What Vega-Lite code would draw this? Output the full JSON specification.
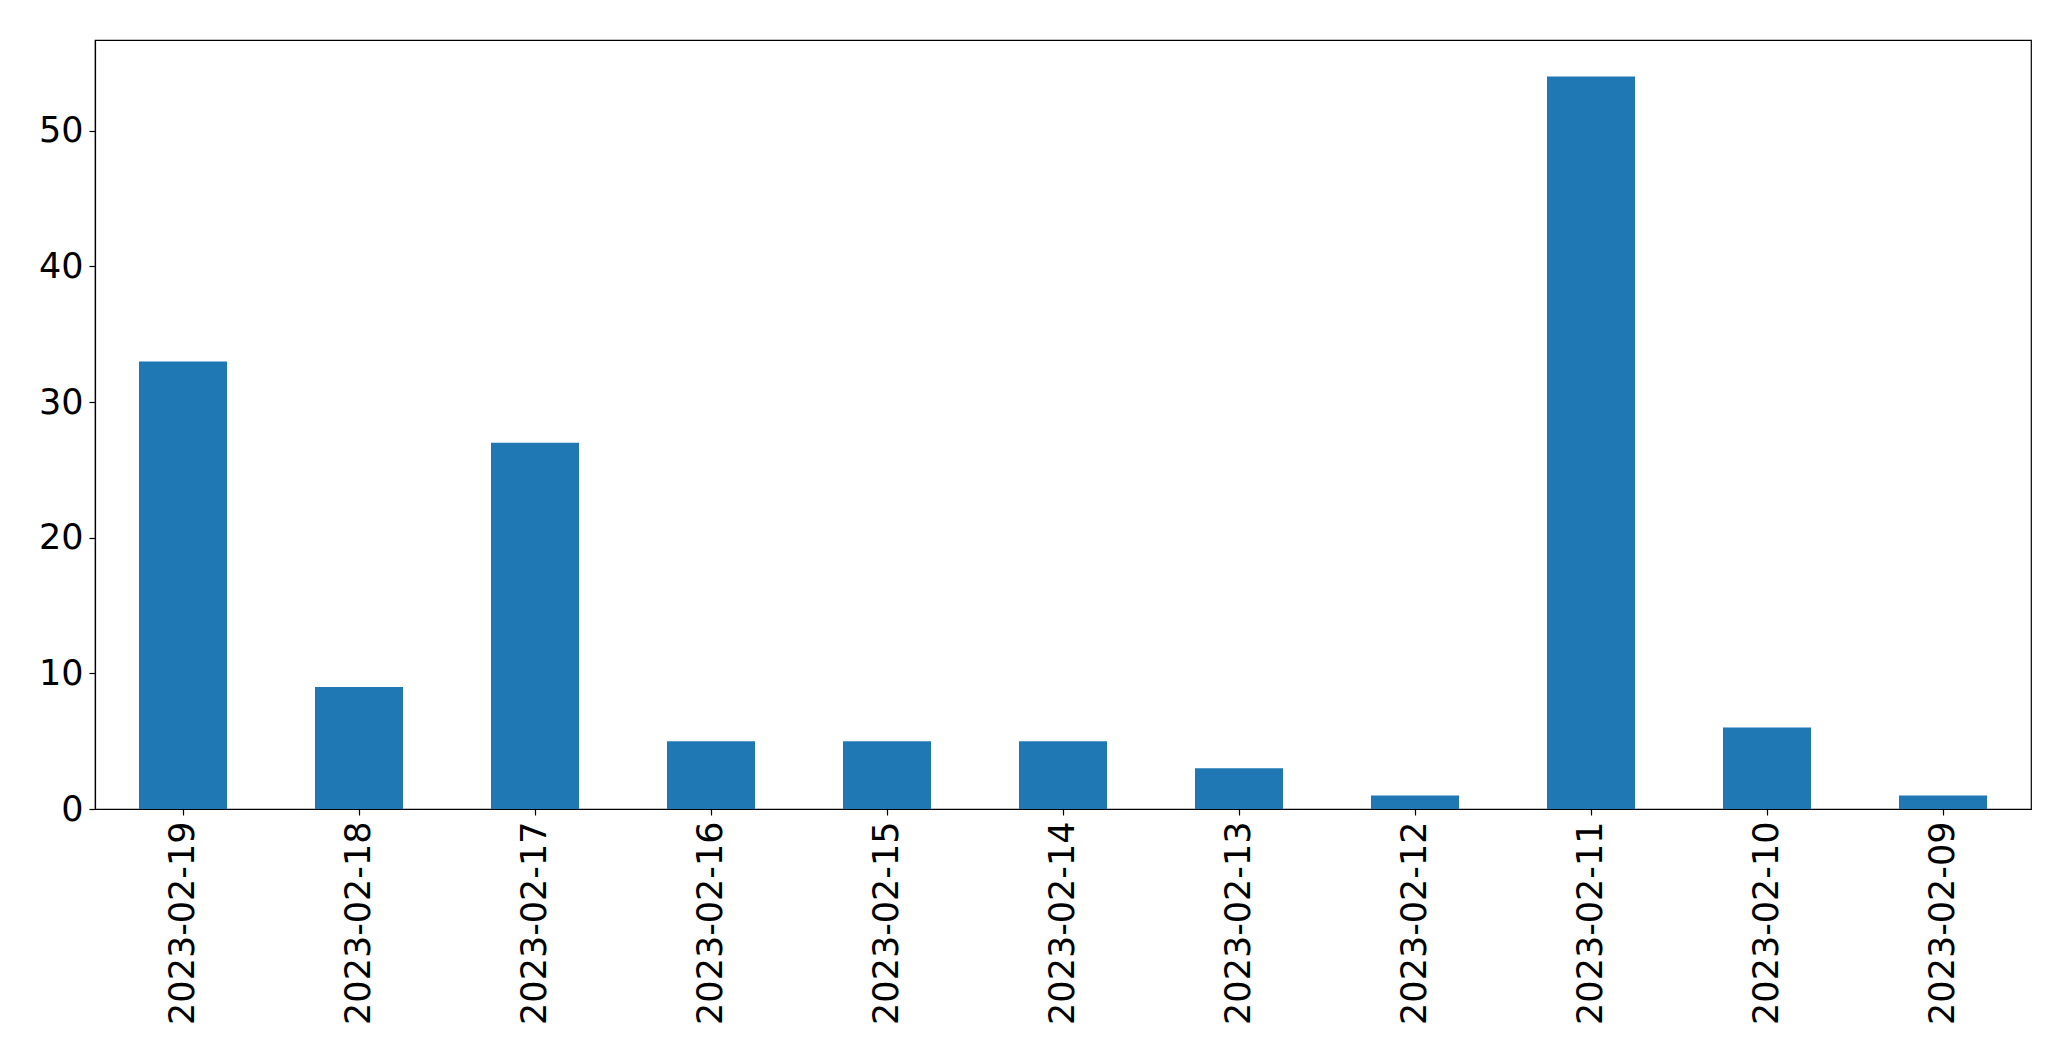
{
  "$schema": "https://vega.github.io/schema/vega-lite/v6.json",
  "autosize": "none",
  "width": 1936,
  "height": 769,
  "padding": {"left": 95, "top": 40, "right": 40, "bottom": 252},
  "background": "white",
  "config": {
    "view": {"stroke": "black", "strokeWidth": 1.2},
    "axis": {
      "labelFont": "DejaVu Sans",
      "labelFontSize": 35,
      "labelColor": "black",
      "labelLimit": 0,
      "domainColor": "black",
      "tickColor": "black",
      "tickSize": 6,
      "tickWidth": 1.2,
      "domainWidth": 1.2,
      "labelPadding": 6,
      "grid": false,
      "title": null
    }
  },
  "data": {
    "values": [
      {"date": "2023-02-19", "count": 33},
      {"date": "2023-02-18", "count": 9},
      {"date": "2023-02-17", "count": 27},
      {"date": "2023-02-16", "count": 5},
      {"date": "2023-02-15", "count": 5},
      {"date": "2023-02-14", "count": 5},
      {"date": "2023-02-13", "count": 3},
      {"date": "2023-02-12", "count": 1},
      {"date": "2023-02-11", "count": 54},
      {"date": "2023-02-10", "count": 6},
      {"date": "2023-02-09", "count": 1}
    ]
  },
  "mark": {"type": "bar", "color": "#1f77b4"},
  "encoding": {
    "x": {
      "field": "date",
      "type": "nominal",
      "sort": null,
      "scale": {"paddingInner": 0.5, "paddingOuter": 0.25},
      "axis": {"labelAngle": -90, "labelPadding": 6}
    },
    "y": {
      "field": "count",
      "type": "quantitative",
      "scale": {"domain": [0, 56.7], "nice": false},
      "axis": {"values": [0, 10, 20, 30, 40, 50]}
    }
  }
}
